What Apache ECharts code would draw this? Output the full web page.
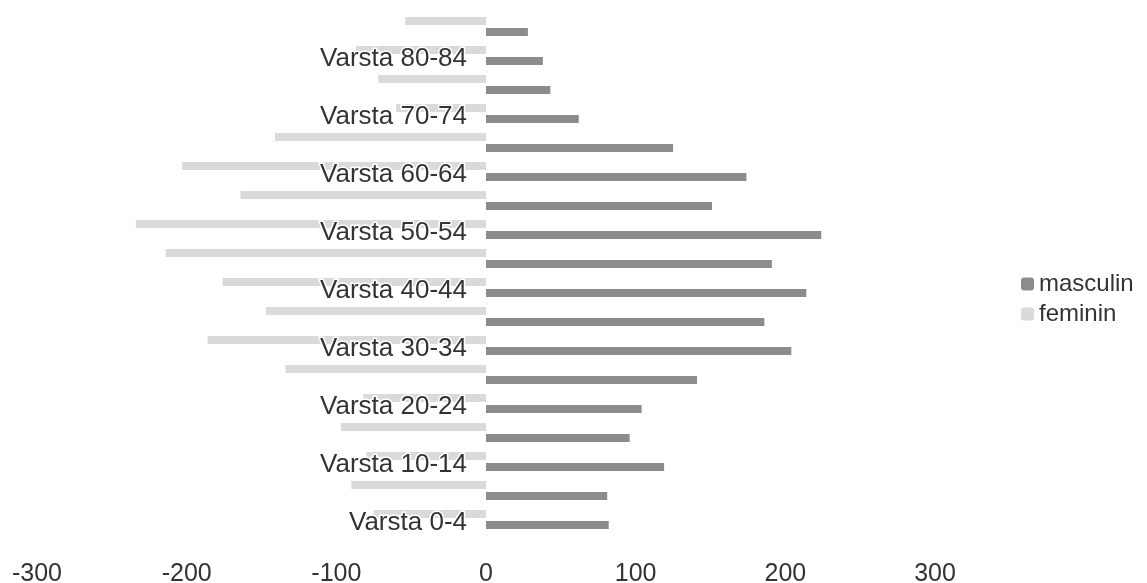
<!DOCTYPE html>
<html>
<head>
<meta charset="utf-8">
<script src="https://cdn.jsdelivr.net/npm/echarts@6/dist/echarts.min.js"></script>
<style>
html,body{margin:0;padding:0;background:#fff;}
#chart{width:1147px;height:583px;}
</style>
</head>
<body>
<div id="chart"></div>
<script>
const categories = ['Varsta 0-4','Varsta 5-9','Varsta 10-14','Varsta 15-19','Varsta 20-24','Varsta 25-29','Varsta 30-34','Varsta 35-39','Varsta 40-44','Varsta 45-49','Varsta 50-54','Varsta 55-59','Varsta 60-64','Varsta 65-69','Varsta 70-74','Varsta 75-79','Varsta 80-84','Varsta 85+'];
const masculin = [82, 81, 119, 96, 104, 141, 204, 186, 214, 191, 224, 151, 174, 125, 62, 43, 38, 28];
const feminin = [-75, -90, -80, -97, -82, -134, -186, -147, -176, -214, -234, -164, -203, -141, -60, -72, -87, -54];
const xTicks = [-300, -200, -100, 0, 100, 200, 300];

const GRID_LEFT = 37, GRID_RIGHT = 212, CHART_W = 1147;
const chart = echarts.init(document.getElementById('chart'));
chart.setOption({
  animation: false,
  backgroundColor: '#fff',
  textStyle: { fontFamily: 'Liberation Sans, Arial, sans-serif' },
  grid: { left: GRID_LEFT, right: GRID_RIGHT, top: 12, bottom: 49, containLabel: false, outerBoundsMode: 'none' },
  legend: {
    data: ['masculin', 'feminin'],
    orient: 'vertical',
    left: 1016,
    top: 267,
    itemWidth: 13,
    itemHeight: 13,
    itemGap: 6,
    textStyle: { fontSize: 24, color: '#333', fontFamily: 'Liberation Sans, Arial, sans-serif' }
  },
  xAxis: {
    type: 'value',
    min: xTicks[0],
    max: xTicks[xTicks.length - 1],
    interval: 100,
    axisLine: { show: false },
    axisTick: { show: false },
    splitLine: { show: false },
    axisLabel: { fontSize: 25, color: '#333', margin: 28 }
  },
  yAxis: {
    type: 'category',
    data: categories,
    z: 10,
    offset: -(CHART_W - GRID_LEFT - GRID_RIGHT) / 2,
    axisLine: { show: true, onZero: false, lineStyle: { color: 'rgba(0,0,0,0)' } },
    axisTick: { show: false },
    axisLabel: {
      interval: 1,
      margin: 19,
      fontSize: 26,
      verticalAlign: 'top',
      lineHeight: 7,
      color: '#333',
      textBorderColor: '#fff',
      textBorderWidth: 3,
      fontFamily: 'Liberation Sans, Arial, sans-serif'
    }
  },
  series: [
    {
      name: 'feminin',
      type: 'bar',
      data: feminin,
      barWidth: 8,
      barGap: '38%',
      itemStyle: { color: '#dadada' }
    },
    {
      name: 'masculin',
      type: 'bar',
      data: masculin,
      barWidth: 8,
      barGap: '38%',
      itemStyle: { color: '#8c8c8c' }
    }
  ]
});
</script>
</body>
</html>
